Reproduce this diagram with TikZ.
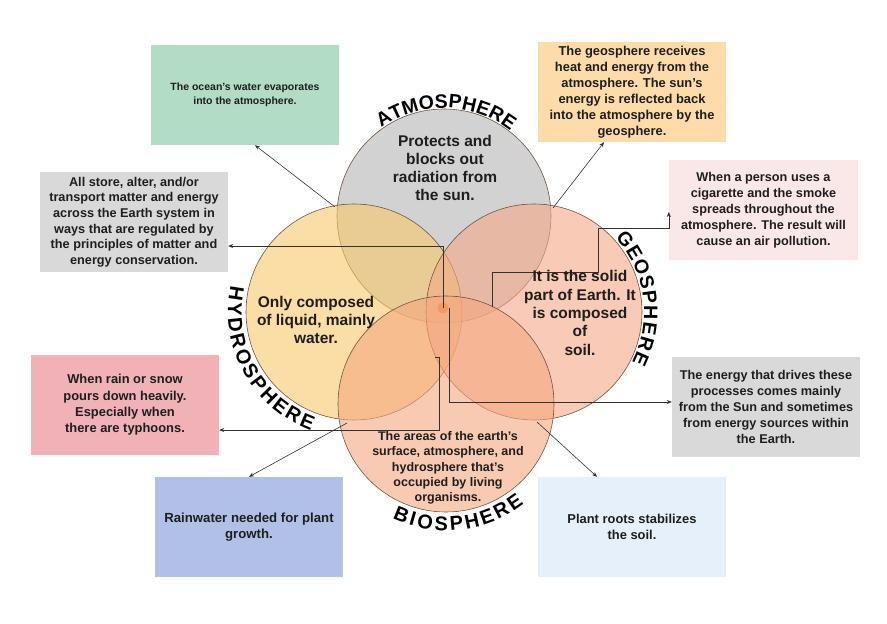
\documentclass[tikz,border=0pt]{standalone}
\usepackage{fontspec}
\setmainfont{Liberation Sans}
\usetikzlibrary{arrows.meta,decorations.text,calc}
\definecolor{atmC}{RGB}{180,180,180}
\definecolor{hydC}{RGB}{248,200,105}
\definecolor{geoC}{RGB}{245,168,133}
\definecolor{bioC}{RGB}{245,167,127}
\definecolor{edgeC}{RGB}{110,85,60}
\definecolor{lineC}{RGB}{50,50,50}
\definecolor{txtC}{RGB}{30,30,30}
\definecolor{greenB}{RGB}{178,221,196}
\definecolor{orangeB}{RGB}{253,220,170}
\definecolor{grayB}{RGB}{217,217,217}
\definecolor{pinkLB}{RGB}{250,232,232}
\definecolor{pinkB}{RGB}{240,178,183}
\definecolor{blueB}{RGB}{176,192,230}
\definecolor{lblueB}{RGB}{230,240,250}
\definecolor{spotC}{RGB}{240,140,80}
\begin{document}
\begin{tikzpicture}[x=1pt,y=1pt,
 sphere/.style={circle, draw=edgeC, line width=0.6pt, fill opacity=0.6, inner sep=0pt, minimum size=216pt},
 infobox/.style={rectangle, minimum width=188pt, minimum height=100pt, inner sep=0pt, align=center, text=txtC, font=\bfseries\fontsize{12.7}{15.7}\selectfont},
 ctext/.style={align=center, text=txtC, font=\bfseries\fontsize{15.5}{18.3}\selectfont},
 conn/.style={draw=lineC, line width=0.6pt, -{Stealth[length=5pt,width=4pt]}},
 arclabel/.style={decorate, decoration={text along path, text align={fit to path}, text={#1}}}
]
\useasboundingbox (0,0) rectangle (887,624);
\fill[white] (0,0) rectangle (887,624);

% spheres
\node[sphere, fill=atmC, minimum size=214pt] (atm) at (444,408) {};
\node[sphere, fill=hydC] (hyd) at (354,312) {};
\node[sphere, fill=geoC] (geo) at (534,312) {};
\node[sphere, fill=bioC] (bio) at (446,220) {};
\node[circle, fill=spotC, fill opacity=0.6, minimum size=11pt, inner sep=0pt] (spot) at (443,316) {};

% boxes
\node[infobox, fill=greenB, font=\bfseries\fontsize{10.5}{14}\selectfont] (green) at (245,529) {The ocean's water evaporates\\into the atmosphere.};
\node[infobox, fill=orangeB, font=\bfseries\fontsize{12.9}{16}\selectfont] (orange) at (632,532) {The geosphere receives\\heat and energy from the\\atmosphere. The sun's\\energy is reflected back\\into the atmosphere by the\\geosphere.};
\node[infobox, fill=grayB] (grayL) at (134,402) {All store, alter, and/or\\transport matter and energy\\across the Earth system in\\ways that are regulated by\\the principles of matter and\\energy conservation.};
\node[infobox, fill=pinkLB, minimum width=189pt, font=\bfseries\fontsize{12.7}{16}\selectfont] (pinkR) at (763.5,414) {When a person uses a\\cigarette and the smoke\\spreads throughout the\\atmosphere. The result will\\cause an air pollution.};
\node[infobox, fill=pinkB, font=\bfseries\fontsize{12.9}{16.3}\selectfont] (pinkL) at (125,219) {When rain or snow\\pours down heavily.\\Especially when\\there are typhoons.};
\node[infobox, fill=grayB, font=\bfseries\fontsize{12.7}{16.2}\selectfont] (grayR) at (766,217) {The energy that drives these\\processes comes mainly\\from the Sun and sometimes\\from energy sources within\\the Earth.};
\node[infobox, fill=blueB, font=\bfseries\fontsize{13.2}{16.5}\selectfont] (blue) at (249,97) {Rainwater needed for plant\\growth.};
\node[infobox, fill=lblueB, font=\bfseries\fontsize{12.9}{16}\selectfont] (lblue) at (632,97) {Plant roots stabilizes\\the soil.};

% connectors
\coordinate (a0) at (335,417);
\draw[conn] (a0) -- ([xshift=10pt]green.south);
\coordinate (b0) at (553,416);
\draw[conn] (b0) -- ([xshift=-28pt]orange.south);
\draw[conn] (spot.center) |- ([yshift=-24pt]grayL.east);
\coordinate (d0) at (435,267);
\draw[conn] (d0) -- ++(4,0) |- ([yshift=-25pt]pinkL.east);
\coordinate (e0) at (449,316);
\draw[conn] (e0) |- ([yshift=5pt]grayR.west);
\coordinate (f0) at (492,317);
\draw[conn] (f0) -- ++(0,35) -- ++(106,0) -- ++(0,44) -| ([yshift=-2pt]pinkR.west);
\coordinate (g0) at (347,201);
\draw[conn] (g0) -- (blue.north);
\coordinate (h0) at (537,202);
\draw[conn] (h0) -- ([xshift=-35pt]lblue.north);

% sphere texts
\node[ctext] (atmT) at (445,456) {Protects and\\blocks out\\radiation from\\the sun.};
\node[ctext] (hydT) at (316,304) {Only composed\\of liquid, mainly\\water.};
\node[ctext] (geoT) at (580,311) {It is the solid\\part of Earth. It\\is composed\\of\\soil.};
\node[ctext, font=\bfseries\fontsize{12.5}{15.3}\selectfont] (bioT) at (448,156) {The areas of the earth's\\surface, atmosphere, and\\hydrosphere that's\\occupied by living\\organisms.};

% curved labels
\path[arclabel={|\bfseries\fontsize{19.5}{19.5}\selectfont|ATMOSPHERE}] ($(atm.center)+(125.5:108)$) arc[start angle=125.5, end angle=52, radius=108];
\path[arclabel={|\bfseries\fontsize{19.5}{19.5}\selectfont|GEOSPHERE}] ($(geo.center)+(42.5:110)$) arc[start angle=42.5, end angle=-27, radius=110];
\path[arclabel={|\bfseries\fontsize{20}{20}\selectfont|HYDROSPHERE}] ($(hyd.center)+(168:126)$) arc[start angle=168, end angle=250, radius=126];
\path[arclabel={|\bfseries\fontsize{20}{20}\selectfont|BIOSPHERE}] ($(bio.center)+(245:126.5)$) arc[start angle=245, end angle=308, radius=126.5];
\end{tikzpicture}
\end{document}
